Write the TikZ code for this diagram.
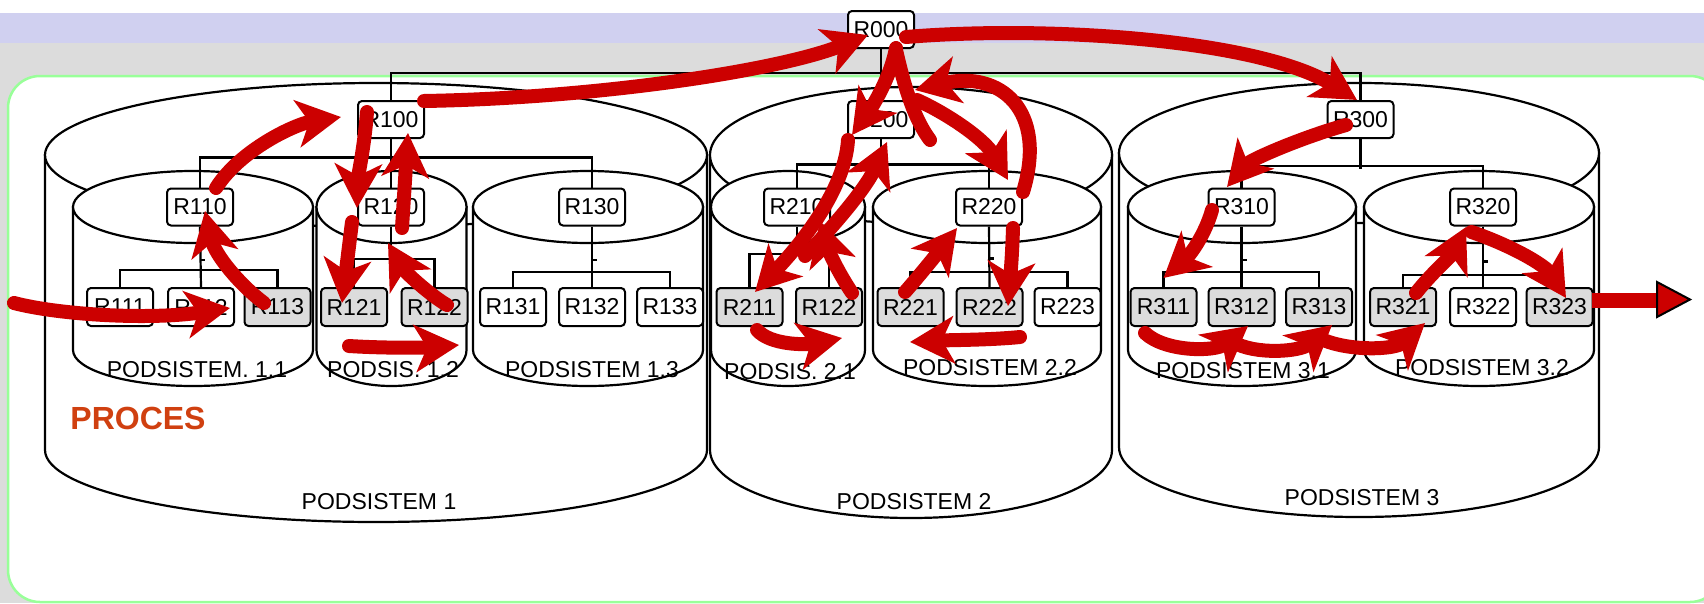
\documentclass[tikz,border=0pt]{standalone}
\usepackage{fontspec}
\setmainfont{Liberation Sans}
\usetikzlibrary{arrows.meta}
\definecolor{lav}{RGB}{208,208,240}
\definecolor{bggray}{RGB}{220,220,220}
\definecolor{grn}{RGB}{153,255,153}
\definecolor{boxgray}{RGB}{220,220,220}
\definecolor{flow}{RGB}{204,0,0}
\definecolor{proc}{RGB}{208,64,16}
\tikzset{
 rbox/.style={draw=black, line width=2pt, rounded corners=4pt, fill=white, minimum width=66pt, minimum height=37pt, inner sep=0pt, font=\fontsize{23}{25}\selectfont},
 leaf/.style={rbox, minimum height=38pt},
 gleaf/.style={leaf, fill=boxgray},
 cyl/.style={draw=black, line width=2.2pt, fill=white},
 tree/.style={draw=black, line width=2.2pt},
 flowarrow/.style={draw=flow, line width=14pt, line cap=round, -{Stealth[length=44pt,width=47pt,inset=12pt]}},
 flowline/.style={draw=flow, line width=14pt, line cap=round},
 lbl/.style={font=\fontsize{23}{25}\selectfont, inner sep=0pt},
}
\newcommand\mycyl[5]{%
 \draw[cyl] ({#1-#4},#2) -- ({#1-#4},#3) arc[start angle=180,end angle=360,x radius=#4pt,y radius=#5pt] -- ({#1+#4},#2) -- cycle;
 \draw[cyl] (#1,#2) ellipse[x radius=#4pt, y radius=#5pt];}
\begin{document}
\begin{tikzpicture}[x=1pt,y=-1pt]
\useasboundingbox (0,0) rectangle (1704,603);
% background
\fill[white] (0,0) rectangle (1704,13);
\fill[lav] (0,13) rectangle (1704,43);
\fill[bggray] (0,43) rectangle (1704,603);
\draw[grn, line width=2.5pt, fill=white, rounded corners=32pt] (8,76) rectangle (1722,602);
% big cylinders
\mycyl{376}{155}{450}{331}{72}
\mycyl{911}{155}{450}{201}{68}
\mycyl{1359}{153}{447}{240}{70}
% sub cylinders
\mycyl{193}{207}{350}{120}{36}
\mycyl{391.5}{207}{350}{75}{36}
\mycyl{588}{207}{350}{115}{36}
\mycyl{788}{207}{350}{77}{36}
\mycyl{987}{207}{350}{114}{36}
\mycyl{1242}{207}{350}{114}{36}
\mycyl{1479}{207}{350}{115}{36}
% labels
\node[lbl] (l11) at (197,370) {PODSISTEM. 1.1};
\node[lbl] (l12) at (393,370) {PODSIS. 1.2};
\node[lbl] (l13) at (592,370) {PODSISTEM 1.3};
\node[lbl] (l21) at (790,372) {PODSIS. 2.1};
\node[lbl] (l22) at (990,368) {PODSISTEM 2.2};
\node[lbl] (l31) at (1243,371) {PODSISTEM 3.1};
\node[lbl] (l32) at (1482,368) {PODSISTEM 3.2};
\node[lbl] (l1) at (379,502) {PODSISTEM 1};
\node[lbl] (l2) at (914,502) {PODSISTEM 2};
\node[lbl] (l3) at (1362,498) {PODSISTEM 3};
\node[font=\bfseries\fontsize{32}{34}\selectfont, text=proc, inner sep=0pt] (proces) at (138,418) {PROCES};
% boxes
\node[rbox] (R000) at (881,29.5) {R000};
\node[rbox] (R100) at (391,119.5) {R100};
\node[rbox] (R200) at (881,119.5) {R200};
\node[rbox] (R300) at (1360.5,119.5) {R300};
\node[rbox] (R110) at (200,207) {R110};
\node[rbox] (R120) at (391,207) {R120};
\node[rbox] (R130) at (592,207) {R130};
\node[rbox] (R210) at (797,207) {R210};
\node[rbox] (R220) at (989,207) {R220};
\node[rbox] (R310) at (1241.5,207) {R310};
\node[rbox] (R320) at (1483,207) {R320};
\node[leaf] (R111) at (120,307) {R111};
\node[leaf] (R112) at (201,307) {R112};
\node[gleaf] (R113) at (277.5,307) {R113};
\node[gleaf] (R121) at (354,307) {R121};
\node[gleaf] (R122) at (434.5,307) {R122};
\node[leaf] (R131) at (513,307) {R131};
\node[leaf] (R132) at (592,307) {R132};
\node[leaf] (R133) at (670,307) {R133};
\node[gleaf] (R211) at (749.5,307) {R211};
\node[gleaf] (R122b) at (829,307) {R122};
\node[gleaf] (R221) at (910.5,307) {R221};
\node[gleaf] (R222) at (989.5,307) {R222};
\node[leaf] (R223) at (1067.5,307) {R223};
\node[gleaf] (R311) at (1163.5,307) {R311};
\node[gleaf] (R312) at (1241.5,307) {R312};
\node[gleaf] (R313) at (1319,307) {R313};
\node[gleaf] (R321) at (1403,307) {R321};
\node[leaf] (R322) at (1483,307) {R322};
\node[gleaf] (R323) at (1559.5,307) {R323};
% tree lines
\draw[tree] (R000.south) -- (R200.north);
\draw[tree] (R100.north) -- ++(0,-27) -| (R300.north);
\draw[tree] (R100.south) -- (R120.north);
\draw[tree] (R110.north) -- ++(0,-30) -| (R130.north);
\draw[tree] (R200.south) -- ++(0,27);
\draw[tree] (R210.north) -- ++(0,-23) -| (R220.north);
\draw[tree] (R300.south) -- ++(0,29.5);
\draw[tree] (R310.north) -- ++(0,-21.5) -| (R320.north);
\draw[tree] (R110.south) -- (R112.north);
\draw[tree] (R111.north) -- ++(0,-17) -| (R113.north);
\draw[tree] (R110.south) ++(0,33.5) -- ++(5,0);
\draw[tree] (R120.south) -- ++(0,34.5);
\draw[tree] (R121.north) -- ++(0,-28) -| (R122.north);
\draw[tree] (R130.south) -- (R132.north);
\draw[tree] (R131.north) -- ++(0,-15) -| (R133.north);
\draw[tree] (R130.south) ++(0,33.5) -- ++(5,0);
\draw[tree] (R210.south) -- ++(0,29.5);
\draw[tree] (R211.north) -- ++(0,-33) -| (R122b.north);
\draw[tree] (R220.south) -- (R222.north);
\draw[tree] (R221.north) -- ++(0,-15) -| (R223.north);
\draw[tree] (R220.south) ++(0,32) -- ++(5,0);
\draw[tree] (R310.south) -- (R312.north);
\draw[tree] (R311.north) -- ++(0,-15) -| (R313.north);
\draw[tree] (R310.south) ++(0,33.5) -- ++(5,0);
\draw[tree] (R320.south) -- (R322.north);
\draw[tree] (R321.north) -- ++(0,-12) -| (R323.north);
\draw[tree] (R320.south) ++(0,35) -- ++(5,0);
% flow coordinates
\coordinate (f1s) at (14,303);   \coordinate (f1e) at (230,308);
\coordinate (f2s) at (264,303);  \coordinate (f2e) at (205,211);
\coordinate (f3s) at (216,188);  \coordinate (f3e) at (341,117);
\coordinate (f4s) at (367,112);  \coordinate (f4e) at (357,208);
\coordinate (f5s) at (352,222);  \coordinate (f5e) at (342,303);
\coordinate (f6s) at (402,228);  \coordinate (f6e) at (408,133);
\coordinate (f7s) at (447,305);  \coordinate (f7e) at (388,243);
\coordinate (f8s) at (349,346);  \coordinate (f8e) at (459,345);
\coordinate (f9s) at (424,101);  \coordinate (f9e) at (868,35);
\coordinate (f10s) at (906,37);  \coordinate (f10e) at (1357,100);
\coordinate (f11s) at (1346,125); \coordinate (f11e) at (1227,187);
\coordinate (f12s) at (1212,210); \coordinate (f12e) at (1163.5,278);
\coordinate (f13s) at (1416,293); \coordinate (f13e) at (1466,227);
\coordinate (f14s) at (1471.5,232); \coordinate (f14e) at (1566,298);
\coordinate (w1s) at (1145,333); \coordinate (w1e) at (1248,326);
\coordinate (w2s) at (1233,342); \coordinate (w2e) at (1332,325);
\coordinate (w3s) at (1317,337); \coordinate (w3e) at (1425,323);
\coordinate (b1s) at (896,48);   \coordinate (b1e) at (852,135);
\coordinate (b2s) at (848,140);  \coordinate (b2e) at (755,292);
\coordinate (b3s) at (805,256);  \coordinate (b3e) at (887,142);
\coordinate (b4s) at (852,293);  \coordinate (b4e) at (820,221);
\coordinate (b5s) at (896,50);   \coordinate (b5e) at (930,140);
\coordinate (b6s) at (917,100);  \coordinate (b6e) at (1008,180);
\coordinate (b7s) at (1023,192); \coordinate (b7e) at (915,90);
\coordinate (b8s) at (1013,228); \coordinate (b8e) at (1008,306);
\coordinate (b9s) at (905,292);  \coordinate (b9e) at (957,228);
\coordinate (b10s) at (1020,337); \coordinate (b10e) at (910,342);
\coordinate (b11s) at (757,330); \coordinate (b11e) at (842,338);
\coordinate (outs) at (1592,300); \coordinate (outb) at (1657,300);
% flow arrows
\draw[flowarrow] (f1s) .. controls (60,315) and (150,320) .. (f1e);
\draw[flowarrow] (f2s) .. controls (240,285) and (215,255) .. (f2e);
\draw[flowarrow] (f3s) .. controls (240,150) and (295,124) .. (f3e);
\draw[flowarrow] (f4s) .. controls (364,150) and (358,175) .. (f4e);
\draw[flowarrow] (f5s) -- (f5e);
\draw[flowarrow] (f6s) -- (f6e);
\draw[flowarrow] (f7s) .. controls (430,295) and (405,272) .. (f7e);
\draw[flowarrow] (f8s) .. controls (380,348) and (420,348) .. (f8e);
\draw[flowarrow] (f9s) .. controls (600,98) and (780,70) .. (f9e);
\draw[flowarrow] (f10s) .. controls (1050,25) and (1260,40) .. (f10e);
\draw[flowarrow] (f11s) .. controls (1300,138) and (1250,160) .. (f11e);
\draw[flowarrow] (f12s) .. controls (1205,235) and (1190,255) .. (f12e);
\draw[flowarrow] (f13s) .. controls (1430,275) and (1452,255) .. (f13e);
\draw[flowarrow] (f14s) .. controls (1510,245) and (1545,265) .. (f14e);
\draw[flowarrow] (w1s) .. controls (1165,352) and (1215,352) .. (w1e);
\draw[flowarrow] (w2s) .. controls (1255,355) and (1300,352) .. (w2e);
\draw[flowarrow] (w3s) .. controls (1345,352) and (1395,350) .. (w3e);
\draw[flowarrow] (b1s) .. controls (890,80) and (870,110) .. (b1e);
\draw[flowarrow] (b2s) .. controls (845,190) and (800,245) .. (b2e);
\draw[flowarrow] (b3s) .. controls (830,230) and (865,190) .. (b3e);
\draw[flowarrow] (b4s) .. controls (840,275) and (830,255) .. (b4e);
\draw[flowline] (b5s) .. controls (905,90) and (915,120) .. (b5e);
\draw[flowarrow] (b6s) .. controls (950,115) and (985,140) .. (b6e);
\draw[flowarrow] (b7s) .. controls (1048,110) and (1000,70) .. (b7e);
\draw[flowarrow] (b8s) .. controls (1012,260) and (1010,280) .. (b8e);
\draw[flowarrow] (b9s) .. controls (920,275) and (940,250) .. (b9e);
\draw[flowarrow] (b10s) .. controls (990,340) and (950,340) .. (b10e);
\draw[flowarrow] (b11s) .. controls (770,345) and (805,345) .. (b11e);
% output
\draw[flow, line width=15pt] (outs) -- (outb);
\draw[fill=flow, draw=black, line width=2pt] (1657,282) -- (1690,299.5) -- (1657,317) -- cycle;
\end{tikzpicture}
\end{document}
